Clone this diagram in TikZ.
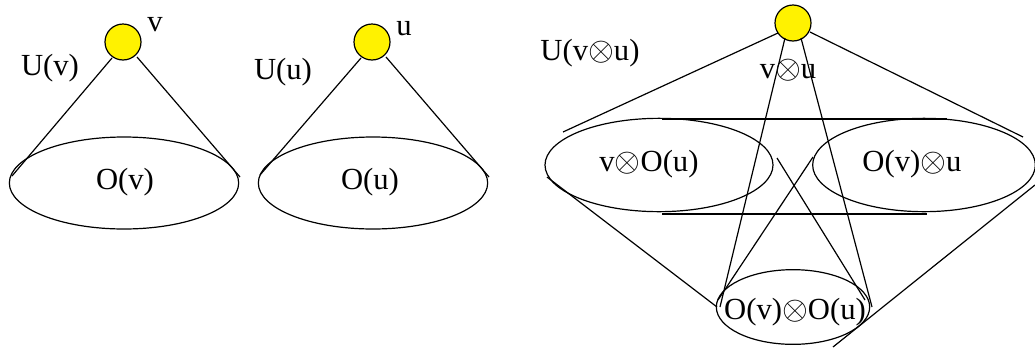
\documentclass[tikz,border=0pt]{standalone}
\usepackage{fontspec}
\setmainfont{Liberation Serif}
\usetikzlibrary{shapes.geometric}
\begin{document}
\begin{tikzpicture}[x=0.75pt,y=-0.75pt,line width=0.9pt,
  vert/.style={circle,draw,fill=yellow,minimum size=27pt,inner sep=0pt},
  lbl/.style={font=\fontsize{23}{23}\selectfont,inner sep=0pt},
  bigset/.style={ellipse,draw,inner sep=0pt,minimum width=172pt,minimum height=69pt},
  smallset/.style={ellipse,draw,inner sep=0pt,minimum width=115pt,minimum height=56pt}]
\useasboundingbox (0,0) rectangle (1035,347);
% left cone
\node[bigset] (ov) at (124,183) {};
\node[vert] (v) at (123,42) {};
\coordinate (v1) at (112,58); \coordinate (v2) at (137,57);
\coordinate (ovl) at (12,176); \coordinate (ovr) at (240,177);
\draw (v1) -- (ovl); \draw (v2) -- (ovr);
\node[lbl] (tv) at (155,25) {v};
\node[lbl] (tuv) at (50,68) {U(v)};
\node[lbl] (tov) at (125,182) {O(v)};
% middle cone
\node[bigset] (ou) at (373,183) {};
\node[vert] (u) at (372,42) {};
\coordinate (u1) at (361,58); \coordinate (u2) at (386,57);
\coordinate (oul) at (260,175); \coordinate (our) at (489,177);
\draw (u1) -- (oul); \draw (u2) -- (our);
\node[lbl] (tu) at (404,29) {u};
\node[lbl] (tuu) at (283,72) {U(u)};
\node[lbl] (tou) at (370,182) {O(u)};
% right
\node[bigset,minimum width=171pt,minimum height=70pt] (vou) at (659,165) {};
\node[bigset,minimum width=167pt,minimum height=70pt] (ovu) at (924,165) {};
\node[smallset] (ovou) at (793,307) {};
\node[vert] (vu) at (793,23) {};
\coordinate (h1a) at (662,119); \coordinate (h1b) at (947,119);
\coordinate (h2a) at (662,214); \coordinate (h2b) at (927,214);
\draw (h1a) -- (h1b); \draw (h2a) -- (h2b);
\coordinate (c1) at (778,33); \coordinate (c2) at (810,32);
\coordinate (c3) at (785,38); \coordinate (c4) at (801,38);
\coordinate (vouA) at (563,132); \coordinate (ovuA) at (1023,137);
\coordinate (bl) at (720,307); \coordinate (br) at (872,307);
\draw (c1) -- (vouA); \draw (c2) -- (ovuA);
\draw (c3) -- (bl); \draw (c4) -- (br);
\coordinate (vouB) at (547,177); \coordinate (bl2) at (717,307);
\draw (vouB) -- (bl2);
\coordinate (ovuB) at (1035,185); \coordinate (br2) at (833,347);
\draw (ovuB) -- (br2);
\coordinate (x1) at (777,158); \coordinate (x1e) at (865,300);
\coordinate (x2) at (813,157); \coordinate (x2e) at (718,300);
\draw (x1) -- (x1e); \draw (x2) -- (x2e);
\node[lbl] (tuvu) at (590,53) {U(v$\otimes$u)};
\node[lbl] (tvu) at (788,70) {v$\otimes$u};
\node[lbl] (tvou) at (649,164) {v$\otimes$O(u)};
\node[lbl] (tovu) at (912,164) {O(v)$\otimes$u};
\node[lbl] (tovou) at (795,312) {O(v)$\otimes$O(u)};
\end{tikzpicture}
\end{document}
